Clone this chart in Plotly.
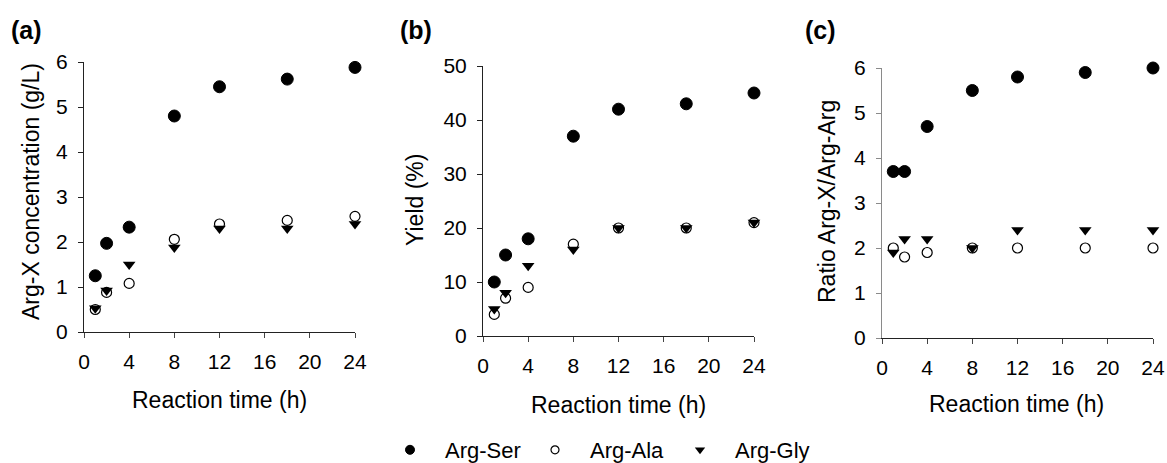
import plotly.graph_objects as go

W, H = 1167, 463

time_h = [1, 2, 4, 8, 12, 18, 24]

# (a) Arg-X concentration (g/L)
conc_ser = [1.25, 1.97, 2.33, 4.80, 5.45, 5.62, 5.88]
conc_ala = [0.50, 0.88, 1.08, 2.06, 2.40, 2.48, 2.57]
conc_gly = [0.53, 0.92, 1.50, 1.88, 2.30, 2.30, 2.40]

# (b) Yield (%)
yield_ser = [10, 15, 18, 37, 42, 43, 45]
yield_ala = [4, 7, 9, 17, 20, 20, 21]
yield_gly = [5, 8, 13, 16, 20, 20, 21]

# (c) Ratio Arg-X/Arg-Arg
ratio_ser = [3.7, 3.7, 4.7, 5.5, 5.8, 5.9, 6.0]
ratio_ala = [2.0, 1.8, 1.9, 2.0, 2.0, 2.0, 2.0]
ratio_gly = [1.9, 2.2, 2.2, 2.0, 2.4, 2.4, 2.4]

series_names = ["Arg-Ser", "Arg-Ala", "Arg-Gly"]
x_ticks = [0, 4, 8, 12, 16, 20, 24]

panels = [
    dict(letter="(a)", ytitle="Arg-X concentration (g/L)", data=[conc_ser, conc_ala, conc_gly],
         yr=[0, 6], dt=1, px=(84, 355), py=(62, 332), yaxcol="#222"),
    dict(letter="(b)", ytitle="Yield (%)", data=[yield_ser, yield_ala, yield_gly],
         yr=[0, 50], dt=10, px=(483, 754), py=(66, 336), yaxcol="#222"),
    dict(letter="(c)", ytitle="Ratio Arg-X/Arg-Arg", data=[ratio_ser, ratio_ala, ratio_gly],
         yr=[0, 6], dt=1, px=(882, 1153), py=(68, 338), yaxcol="#8a8a8a"),
]

styles = [
    dict(symbol="circle", size=12, lsize=9, line=dict(color="black", width=1)),
    dict(symbol="circle-open", size=10, lsize=8, line=dict(color="black", width=1.2)),
    dict(symbol="triangle-down", size=11, lsize=9, line=dict(color="black", width=0)),
]

FONT = "Liberation Sans, Arial, sans-serif"
fig = go.Figure()
annotations = []
layout_axes = {}

for i, p in enumerate(panels):
    n = "" if i == 0 else str(i + 1)
    for j, (vals, st) in enumerate(zip(p["data"], styles)):
        fig.add_trace(go.Scatter(
            x=time_h, y=vals, mode="markers", name=series_names[j],
            marker=dict(symbol=st["symbol"], size=st["size"], color="black", line=st["line"]),
            xaxis="x" + n, yaxis="y" + n, showlegend=False, cliponaxis=False,
        ))
    x0, x1 = p["px"]
    y0, y1 = p["py"]
    layout_axes["xaxis" + n] = dict(
        domain=[x0 / W, x1 / W], range=[0, 24], anchor="y" + n,
        tickvals=x_ticks, ticks="outside", ticklen=5, tickcolor="#444",
        showline=True, linecolor="#222", linewidth=1, showgrid=False, zeroline=False,
        tickfont=dict(size=21, color="black", family=FONT), ticklabelstandoff=6,
    )
    layout_axes["yaxis" + n] = dict(
        domain=[1 - y1 / H, 1 - y0 / H], range=p["yr"], anchor="x" + n,
        dtick=p["dt"], ticks="outside", ticklen=5, tickcolor=p["yaxcol"],
        showline=True, linecolor=p["yaxcol"], linewidth=1, showgrid=False, zeroline=False,
        tickfont=dict(size=21, color="black", family=FONT), ticklabelstandoff=6,
    )

# legend entries (small symbols, as in the reference legend)
for j, st in enumerate(styles):
    fig.add_trace(go.Scatter(
        x=[None], y=[None], mode="markers", name=series_names[j],
        marker=dict(symbol=st["symbol"], size=st["lsize"], color="black", line=st["line"]),
        showlegend=True,
    ))

# panel letters
for (letter, x, y) in [("(a)", 26, 30), ("(b)", 416, 30), ("(c)", 820, 30)]:
    annotations.append(dict(text="<b>%s</b>" % letter, x=x / W, y=1 - y / H, xref="paper", yref="paper",
                            showarrow=False, xanchor="center", yanchor="middle",
                            font=dict(size=25, color="black", family=FONT)))
# x titles
for (x, y) in [(219, 400), (618, 405), (1017, 404)]:
    annotations.append(dict(text="Reaction time (h)", x=x / W, y=1 - y / H, xref="paper", yref="paper",
                            showarrow=False, xanchor="center", yanchor="middle",
                            font=dict(size=23, color="black", family=FONT)))
# y titles
for (p, x, y) in zip(panels, [31, 415, 827], [192, 200, 202]):
    annotations.append(dict(text=p["ytitle"], x=x / W, y=1 - y / H, xref="paper", yref="paper",
                            showarrow=False, xanchor="center", yanchor="middle", textangle=-90,
                            font=dict(size=23, color="black", family=FONT)))

fig.update_layout(
    width=W, height=H, margin=dict(l=0, r=0, t=0, b=0, autoexpand=False),
    paper_bgcolor="white", plot_bgcolor="white",
    font=dict(family=FONT, color="black"),
    annotations=annotations,
    showlegend=True,
    legend=dict(orientation="h", x=(583.5 + 9) / W, xanchor="center", y=1 - 450 / H, yanchor="middle",
                font=dict(size=22, color="black", family=FONT), itemwidth=60,
                itemsizing="trace", bgcolor="rgba(0,0,0,0)", entrywidth=70, entrywidthmode="pixels"),
    **layout_axes,
)

fig.write_html("out.html")
